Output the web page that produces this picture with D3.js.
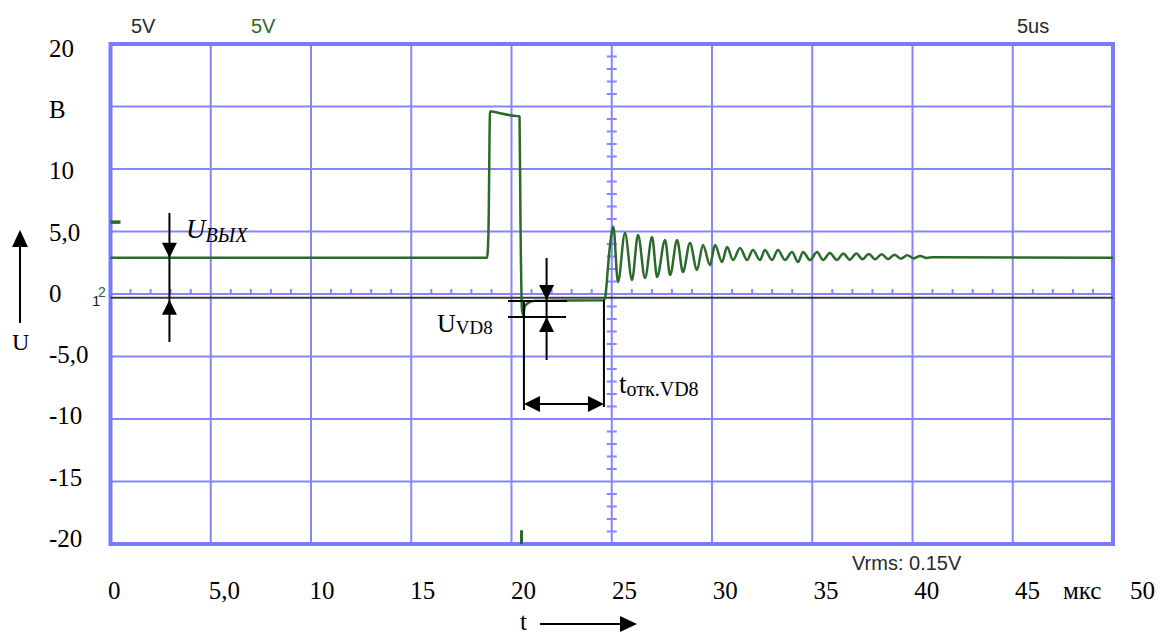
<!DOCTYPE html>
<html>
<head>
<meta charset="utf-8">
<script src="https://cdn.jsdelivr.net/npm/d3@7"></script>
<style>
  body { margin: 0; background: #fff; }
  svg { display: block; }
</style>
</head>
<body>
<svg id="chart" width="1159" height="635"></svg>
<script>
// ---- axis ticks -------------------------------------------------------
const timeTicks = [0, 5, 10, 15, 20, 25, 30, 35, 40, 45];
const timeTickLabels = ["0", "5,0", "10", "15", "20", "25", "30", "35", "40", "45"];
const voltTicks = [20, 15, 10, 5, 0, -5, -10, -15, -20];
const voltTickLabels = ["20", "В", "10", "5,0", "0", "-5,0", "-10", "-15", "-20"];

// ---- channel 1 (black): time, µs / voltage, V ------------------------
const ch1Time = [0, 50];
const ch1Volt = [-0.3, -0.3];

// ---- channel 2 (green): time, µs / voltage, V ------------------------
const ch2Time = [
  0, 18.78, 18.85, 18.93, 19.01, 19.33, 19.93, 20.40, 20.45, 20.52, 20.58, 20.66, 20.85, 21.15,
  24.60, 24.68, 24.76, 24.84, 24.93, 25.08,
  25.31, 25.66, 26.01, 26.31, 26.66, 27.01, 27.26, 27.66, 27.91, 28.26,
  28.55, 28.90, 29.25, 29.55, 29.90, 30.15, 30.50, 30.75, 31.05, 31.40,
  31.75, 32.04, 32.39, 32.64, 32.99, 33.29, 33.64, 33.99, 34.29, 34.54,
  34.89, 35.24, 35.54, 35.88, 36.23, 36.55, 36.87, 37.20, 37.50, 37.82,
  38.14, 38.46, 38.78, 39.10, 39.42, 39.74, 40.06, 40.38, 40.70, 41.00, 50
];
const ch2Volt = [
  2.9, 2.9, 4.9, 14.6, 14.6, 14.5, 14.3, 14.2, 5.5, -1.2, -1.7, -1.0, -0.7, -0.55,
  -0.5, -0.2, 1.1, 2.7, 4.1, 5.38,
  0.96, 4.88, 1.12, 4.72, 1.28, 4.56, 1.36, 4.32, 1.52, 4.32,
  1.76, 4.08, 1.92, 3.92, 2.32, 3.92, 2.56, 3.76, 2.72, 3.68,
  2.72, 3.52, 2.72, 3.52, 2.72, 3.52, 2.72, 3.36, 2.56, 3.36,
  2.72, 3.36, 2.72, 3.28, 2.72, 3.25, 2.75, 3.25, 2.78, 3.20,
  2.78, 3.18, 2.80, 3.15, 2.82, 3.10, 2.85, 3.05, 2.88, 2.95, 2.9
];
// short clipped excursion of channel 2 at the bottom edge
const ch2GlitchTime = [20.5, 20.5];
const ch2GlitchVolt = [-18.9, -20];
// channel 2 trigger level marker
const ch2TriggerLevel = 5.75;

// ---- layout ------------------------------------------------------------
const plot = { left: 110.5, right: 1113, top: 44, bottom: 544 };
const GRID = "#8585ff", BORDER = "#7a7aff", GREEN = "#2c6a2c", TRACE1 = "#3a3a3a";
const SERIF = "'Liberation Serif','Times New Roman',serif";
const SANS = "'Liberation Sans',Arial,sans-serif";

const svg = d3.select("#chart");
const x = d3.scaleLinear().domain([0, 50]).range([plot.left, plot.right]);
const y = d3.scaleLinear().domain([-20, 20]).range([plot.bottom, plot.top]);
// hand-set label scales (label columns are slightly offset from the graticule)
const xLab = d3.scaleLinear().domain([0, 45]).range([108, 1015]);
const yLab = d3.scaleLinear().domain([-20, 20]).range([538, 48]);

// ---- graticule -----------------------------------------------------------
const g = svg.append("g");
g.selectAll("line.v").data(d3.range(5, 50, 5)).join("line")
  .attr("x1", d => x(d)).attr("x2", d => x(d))
  .attr("y1", plot.top).attr("y2", plot.bottom)
  .attr("stroke", GRID).attr("stroke-width", 2);
g.selectAll("line.h").data(d3.range(-15, 20, 5)).join("line")
  .attr("y1", d => y(d)).attr("y2", d => y(d))
  .attr("x1", plot.left).attr("x2", plot.right)
  .attr("stroke", GRID).attr("stroke-width", 2);
// minor ticks on the centre lines
g.selectAll("line.mx").data(d3.range(1, 50).filter(d => d % 5 !== 0)).join("line")
  .attr("x1", d => x(d)).attr("x2", d => x(d))
  .attr("y1", y(0) - 5).attr("y2", y(0))
  .attr("stroke", GRID).attr("stroke-width", 2);
g.selectAll("line.my").data(d3.range(-19, 20).filter(d => d % 5 !== 0)).join("line")
  .attr("y1", d => y(d)).attr("y2", d => y(d))
  .attr("x1", x(25) - 5).attr("x2", x(25) + 5)
  .attr("stroke", GRID).attr("stroke-width", 2);
g.append("rect")
  .attr("x", plot.left).attr("y", plot.top)
  .attr("width", plot.right - plot.left).attr("height", plot.bottom - plot.top)
  .attr("fill", "none").attr("stroke", BORDER).attr("stroke-width", 4);

// ---- traces ----------------------------------------------------------------
const line = d3.line().x(d => x(d[0])).y(d => y(d[1]));
const smooth = d3.line().x(d => x(d[0])).y(d => y(d[1])).curve(d3.curveMonotoneX);
const zip = (a, b) => a.map((t, i) => [t, b[i]]);

svg.append("path").datum(zip(ch1Time, ch1Volt))
  .attr("d", line).attr("fill", "none")
  .attr("stroke", TRACE1).attr("stroke-width", 2);
svg.append("path").datum(zip(ch2Time, ch2Volt))
  .attr("d", smooth).attr("fill", "none")
  .attr("stroke", GREEN).attr("stroke-width", 2.5).attr("stroke-linejoin", "round");
svg.append("path").datum(zip(ch2GlitchTime, ch2GlitchVolt))
  .attr("d", line).attr("fill", "none")
  .attr("stroke", GREEN).attr("stroke-width", 3);
svg.append("line")
  .attr("x1", x(0)).attr("x2", x(0) + 10)
  .attr("y1", y(ch2TriggerLevel)).attr("y2", y(ch2TriggerLevel))
  .attr("stroke", GREEN).attr("stroke-width", 3.5);

// channel markers "1" and "2"
svg.append("text").attr("x", 92).attr("y", 306).text("1")
  .attr("font-family", SANS).attr("font-size", 15).attr("fill", "#222");
svg.append("text").attr("x", 98).attr("y", 297).text("2")
  .attr("font-family", SANS).attr("font-size", 14).attr("fill", GREEN);

// ---- scope header / footer readouts ------------------------------------------
const readout = (tx, ty, s, fill) => svg.append("text")
  .attr("x", tx).attr("y", ty).text(s)
  .attr("font-family", SANS).attr("font-size", 20).attr("fill", fill);
readout(131, 33, "5V", "#2a2a2a");
readout(251, 33, "5V", GREEN);
readout(1017, 33, "5us", "#2a2a2a");
readout(852, 570, "Vrms: 0.15V", "#2a2a2a");

// ---- axis labels ----------------------------------------------------------
svg.append("g").selectAll("text").data(voltTicks).join("text")
  .attr("x", 49).attr("y", d => yLab(d)).attr("dy", "0.35em")
  .attr("font-family", SERIF).attr("font-size", 25).attr("fill", "#000")
  .text((d, i) => voltTickLabels[i]);
svg.append("g").selectAll("text").data(timeTicks).join("text")
  .attr("x", d => xLab(d)).attr("y", 599)
  .attr("font-family", SERIF).attr("font-size", 25).attr("fill", "#000")
  .text((d, i) => timeTickLabels[i]);
svg.append("text").attr("x", 1063).attr("y", 599).text("мкс")
  .attr("font-family", SERIF).attr("font-size", 25);
svg.append("text").attr("x", 1130).attr("y", 599).text("50")
  .attr("font-family", SERIF).attr("font-size", 25);

// ---- annotation arrows ---------------------------------------------------------
const ann = svg.append("g").attr("stroke", "#000").attr("stroke-width", 2);
function seg(x1, y1, x2, y2) {
  ann.append("line").attr("x1", x1).attr("y1", y1).attr("x2", x2).attr("y2", y2);
}
function head(tx, ty, dx, dy, len = 15, hw = 7.5) {
  // filled arrow head with its tip at (tx, ty), pointing along (dx, dy)
  const n = Math.hypot(dx, dy), ux = dx / n, uy = dy / n;
  const bx = tx - ux * len, by = ty - uy * len;
  svg.append("path")
    .attr("d", `M${tx},${ty}L${bx - uy * hw},${by + ux * hw}L${bx + uy * hw},${by - ux * hw}Z`)
    .attr("fill", "#000");
}

// U axis arrow
seg(20, 323, 20, 240); head(20, 230, 0, -1, 17, 8);
// t axis arrow
seg(540, 624, 625, 624); head(637, 624, 1, 0, 17, 8);

// output voltage: between ch2 level and ch1 level
const xU = x(2.94);
seg(xU, 213, xU, 342);
head(xU, y(2.9), 0, 1); head(xU, y(-0.3) + 2, 0, -1);

// VD8 voltage drop
const xD = x(21.75);
seg(xD, 258, xD, 360);
head(xD, 300, 0, 1); head(xD, 317, 0, -1);
seg(508, 301, 567, 301);
seg(508, 317, 566, 317);

// VD8 turn-off time
const xA = x(20.62), xB = x(24.61);
seg(xA, 301, xA, 410);
seg(xB, 300, xB, 407);
seg(xA + 10, 404, xB - 10, 404);
head(xA, 404, -1, 0, 16, 8); head(xB, 404, 1, 0, 16, 8);

// ---- annotation labels ------------------------------------------------------------
const lbl = (tx, ty, main, sub, italic, mainSize, subSize, subDy) => {
  const t = svg.append("text").attr("x", tx).attr("y", ty)
    .attr("font-family", SERIF).attr("font-style", italic ? "italic" : "normal");
  t.append("tspan").attr("font-size", mainSize).text(main);
  t.append("tspan").attr("font-size", subSize).attr("dy", subDy).text(sub);
};
lbl(186, 238, "U", "ВЫХ", true, 27, 20, 4);
lbl(437, 332, "U", "VD8", false, 26, 19, 2);
lbl(619, 393, "t", "отк.VD8", false, 27, 20, 3);
svg.append("text").attr("x", 12).attr("y", 350).text("U")
  .attr("font-family", SERIF).attr("font-size", 24);
svg.append("text").attr("x", 520).attr("y", 630).text("t")
  .attr("font-family", SERIF).attr("font-size", 25);
</script>
</body>
</html>
